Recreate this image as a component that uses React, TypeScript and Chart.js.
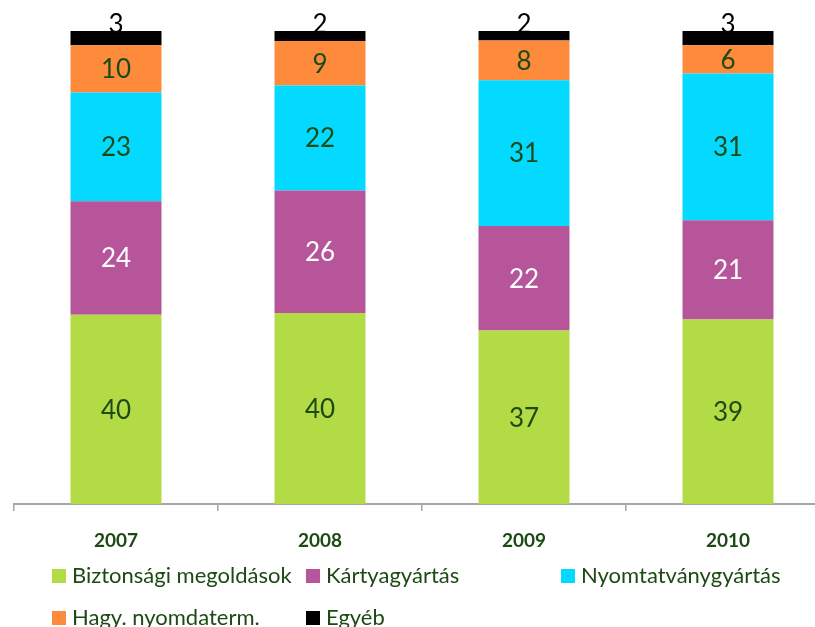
import React, { useEffect, useRef } from 'react';
import { Chart, registerables } from 'chart.js';

Chart.register(...registerables);

const categories = ['2007', '2008', '2009', '2010'];
const seriesNames = ['Biztonsági megoldások', 'Kártyagyártás', 'Nyomtatványgyártás', 'Hagy. nyomdaterm.', 'Egyéb'];
const biztonsagi = [40, 40.4, 36.7, 39];
const kartya = [24, 25.9, 22.1, 21];
const nyomtatvany = [23, 22.2, 30.8, 31];
const hagyomanyos = [10, 9.4, 8.4, 6];
const egyeb = [3, 2.1, 2, 3];

const seriesValues = [biztonsagi, kartya, nyomtatvany, hagyomanyos, egyeb];
const colors = ['#b3db45', '#b7559b', '#04daff', '#fd8b3b', '#000000'];
const labelColors = ['#1d4a14', '#ffffff', '#1d4a14', '#1d4a14', '#000000'];
const textColor = '#1d4a14';

const valueLabels = {
  id: 'valueLabels',
  afterDatasetsDraw(chart: any) {
    const ctx = chart.ctx;
    ctx.save();
    ctx.font = '26px Lato';
    ctx.textAlign = 'center';
    ctx.textBaseline = 'middle';
    chart.data.datasets.forEach((ds: any, i: number) => {
      const meta = chart.getDatasetMeta(i);
      meta.data.forEach((bar: any, j: number) => {
        const v = ds.data[j] as number;
        const p = bar.getProps(['x', 'y', 'base'], true);
        let cy = (p.y + p.base) / 2;
        if (i === seriesValues.length - 1) cy = p.y - 7;
        ctx.fillStyle = labelColors[i];
        ctx.fillText(String(Math.round(v)), p.x, cy + 1);
      });
    });
    ctx.restore();
  },
};

const gridLegend = {
  id: 'gridLegend',
  afterDraw(chart: any) {
    const ctx = chart.ctx;
    const cols = [52, 306, 561];
    const rows = [576, 618];
    ctx.save();
    ctx.font = '22px Lato';
    ctx.textAlign = 'left';
    ctx.textBaseline = 'middle';
    chart.data.datasets.forEach((ds: any, i: number) => {
      const cx = cols[i % 3];
      const cy = rows[Math.floor(i / 3)];
      ctx.fillStyle = ds.backgroundColor;
      ctx.fillRect(cx, cy - 7, 14, 14);
      ctx.fillStyle = textColor;
      ctx.fillText(ds.label, cx + 20, cy);
    });
    ctx.restore();
  },
};

export default function App() {
  const ref = useRef<HTMLCanvasElement | null>(null);
  useEffect(() => {
    if (!ref.current) return;
    const chart = new Chart(ref.current, {
      type: 'bar',
      data: {
        labels: categories,
        datasets: seriesNames.map((name, i) => ({
          label: name,
          data: seriesValues[i],
          backgroundColor: colors[i],
          borderWidth: 0,
          categoryPercentage: 0.446,
          barPercentage: 1,
        })),
      },
      options: {
        animation: false,
        responsive: false,
        maintainAspectRatio: false,
        layout: { padding: { left: 14, right: 16, top: 31, bottom: 43 } },
        plugins: {
          legend: { display: false },
          tooltip: { enabled: false },
        },
        scales: {
          x: {
            stacked: true,
            grid: {
              display: true,
              drawOnChartArea: false,
              drawTicks: true,
              tickLength: 7,
              color: '#a6a6a6',
              offset: true,
              lineWidth: 1.5,
            },
            border: { display: true, color: '#a6a6a6', width: 2 },
            ticks: {
              color: textColor,
              font: { family: 'Lato', size: 19, weight: 'bold' },
              padding: 18,
            },
            afterFit: (s: any) => {
              s.height = 80;
            },
          },
          y: {
            stacked: true,
            min: 0,
            max: 100,
            display: false,
          },
        },
      },
      plugins: [valueLabels, gridLegend],
    });
    return () => chart.destroy();
  }, []);
  return (
    <div style={{ position: 'fixed', left: 0, top: 0, width: 815, height: 627, overflow: 'hidden', background: '#fff' }}>
      <canvas ref={ref} width={846} height={627} style={{ width: 846, height: 627, display: 'block' }} />
    </div>
  );
}
